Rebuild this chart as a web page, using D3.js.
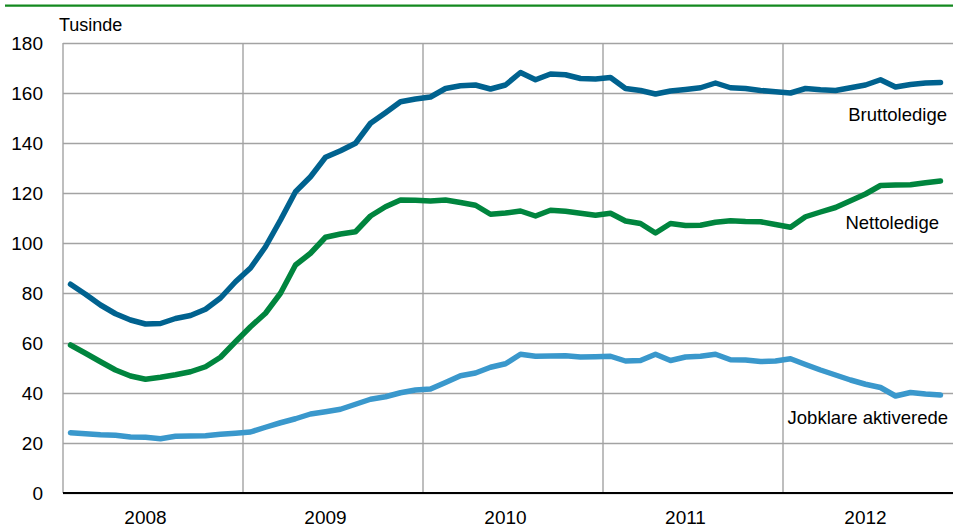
<!DOCTYPE html>
<html>
<head>
<meta charset="utf-8">
<script src="https://cdn.jsdelivr.net/npm/d3@7"></script>
<style>
  html, body { margin: 0; padding: 0; background: #fff; }
  svg { display: block; }
  text { font-family: "Liberation Sans", Arial, sans-serif; fill: #000; }
</style>
</head>
<body>
<svg id="chart" width="953" height="528"></svg>
<script>
const years = ["2008", "2009", "2010", "2011", "2012"];
const yTicks = [0, 20, 40, 60, 80, 100, 120, 140, 160, 180];
const unitLabel = "Tusinde";

const bruttoledige = [
  83.5, 79.5, 75.2, 71.7, 69.2, 67.6, 67.8, 69.8, 71.0, 73.5, 78.0, 84.5,
  90.0, 98.5, 109.2, 120.5, 126.5, 134.3, 136.9, 139.9, 147.9, 152.1, 156.5, 157.6,
  158.4, 161.8, 162.9, 163.2, 161.6, 163.2, 168.2, 165.3, 167.6, 167.3, 165.8, 165.6,
  166.2, 161.8, 161.0, 159.6, 160.8, 161.4, 162.1, 164.0, 162.1, 161.8, 161.0, 160.5,
  160.0, 161.8, 161.3, 161.0, 162.1, 163.2, 165.3, 162.4, 163.4, 164.0, 164.2
];
const nettoledige = [
  59.2, 55.9, 52.5, 49.2, 46.8, 45.5, 46.3, 47.3, 48.5, 50.5, 54.3, 60.5,
  66.5, 71.9, 79.9, 91.2, 95.9, 102.3, 103.6, 104.5, 110.8, 114.5, 117.2, 117.1,
  116.8, 117.2, 116.2, 115.1, 111.5, 112.0, 112.8, 110.8, 113.1, 112.7, 111.9, 111.1,
  111.9, 108.8, 107.8, 104.0, 107.8, 107.0, 107.1, 108.3, 108.9, 108.6, 108.5, 107.4,
  106.3, 110.5, 112.4, 114.2, 116.9, 119.6, 123.0, 123.2, 123.3, 124.1, 124.8
];
const jobklareAktiverede = [
  24.1, 23.7, 23.3, 23.1, 22.4, 22.3, 21.7, 22.7, 22.8, 22.9, 23.5, 23.9,
  24.4, 26.3, 28.1, 29.7, 31.6, 32.5, 33.5, 35.5, 37.5, 38.5, 40.1, 41.2,
  41.6, 44.2, 46.9, 48.0, 50.3, 51.7, 55.5, 54.7, 54.8, 54.9, 54.4, 54.5,
  54.7, 52.8, 53.0, 55.5, 53.0, 54.4, 54.7, 55.5, 53.3, 53.2, 52.6, 52.8,
  53.7, 51.4, 49.2, 47.2, 45.2, 43.5, 42.2, 38.8, 40.2, 39.6, 39.2
];
const seriesNames = ["Bruttoledige", "Nettoledige", "Jobklare aktiverede"];
const seriesColors = ["#00628f", "#00853e", "#3a98cc"];

// month categories (year-month keys)
const months = [];
years.forEach(y => { for (let m = 1; m <= 12; m++) months.push(y + "-" + String(m).padStart(2, "0")); });

const svg = d3.select("#chart");
const margin = { left: 63, top: 43, bottom: 493 };
const plotRight = 963;

const x = d3.scaleBand().domain(months).range([margin.left, plotRight]).padding(0);
const y = d3.scaleLinear().domain([0, 180]).range([margin.bottom, margin.top]);

// top green rule
svg.append("line").attr("x1", 5).attr("x2", 953).attr("y1", 5.7).attr("y2", 5.7)
  .attr("stroke", "#13891f").attr("stroke-width", 2.2);

// horizontal gridlines
const gy = d3.axisLeft(y).tickValues(yTicks).tickSize(-(plotRight - margin.left)).tickFormat("");
svg.append("g").attr("transform", `translate(${margin.left},0)`).call(gy)
  .call(g => g.select(".domain").remove())
  .call(g => g.selectAll(".tick line").attr("stroke", "#a3a3a3").attr("stroke-width", 1.4));

// vertical year gridlines
const yearStarts = years.map(yr => x(yr + "-01"));
svg.append("g").selectAll("line").data(yearStarts).join("line")
  .attr("x1", d => d).attr("x2", d => d)
  .attr("y1", margin.top).attr("y2", margin.bottom)
  .attr("stroke", "#a3a3a3").attr("stroke-width", 1.4);

// y-axis labels
const ya = d3.axisLeft(y).tickValues(yTicks).tickSize(0).tickPadding(20).tickFormat(d3.format("d"));
svg.append("g").attr("transform", `translate(${margin.left},0)`).call(ya)
  .call(g => g.select(".domain").remove())
  .call(g => g.selectAll("text").attr("font-size", 19).attr("font-family", "Liberation Sans, Arial, sans-serif").attr("fill", "#000"));

// x axis baseline
svg.append("line").attr("x1", margin.left).attr("x2", 953)
  .attr("y1", margin.bottom).attr("y2", margin.bottom)
  .attr("stroke", "#000").attr("stroke-width", 2.2);

// year labels (centred at June of each year)
svg.append("g").selectAll("text").data(years).join("text")
  .attr("x", d => x(d + "-06") + x.bandwidth() / 2)
  .attr("y", 523.5)
  .attr("text-anchor", "middle")
  .attr("font-size", 19)
  .text(d => d);

// unit label
svg.append("text").attr("x", 59).attr("y", 30.5).attr("font-size", 18).text(unitLabel);

// lines
const allSeries = [bruttoledige, nettoledige, jobklareAktiverede];
const line = d3.line()
  .x((d, i) => x(months[i]) + x.bandwidth() / 2)
  .y(d => y(d));
svg.append("g").selectAll("path").data(allSeries).join("path")
  .attr("d", d => line(d))
  .attr("fill", "none")
  .attr("stroke", (d, i) => seriesColors[i])
  .attr("stroke-width", 5.5)
  .attr("stroke-linejoin", "round")
  .attr("stroke-linecap", "round");

// series labels
const labelPos = [
  { x: 947, y: 121 },
  { x: 939, y: 229 },
  { x: 948, y: 424 }
];
svg.append("g").selectAll("text").data(seriesNames).join("text")
  .attr("x", (d, i) => labelPos[i].x)
  .attr("y", (d, i) => labelPos[i].y)
  .attr("text-anchor", "end")
  .attr("font-size", 18.5)
  .text(d => d);
</script>
</body>
</html>
